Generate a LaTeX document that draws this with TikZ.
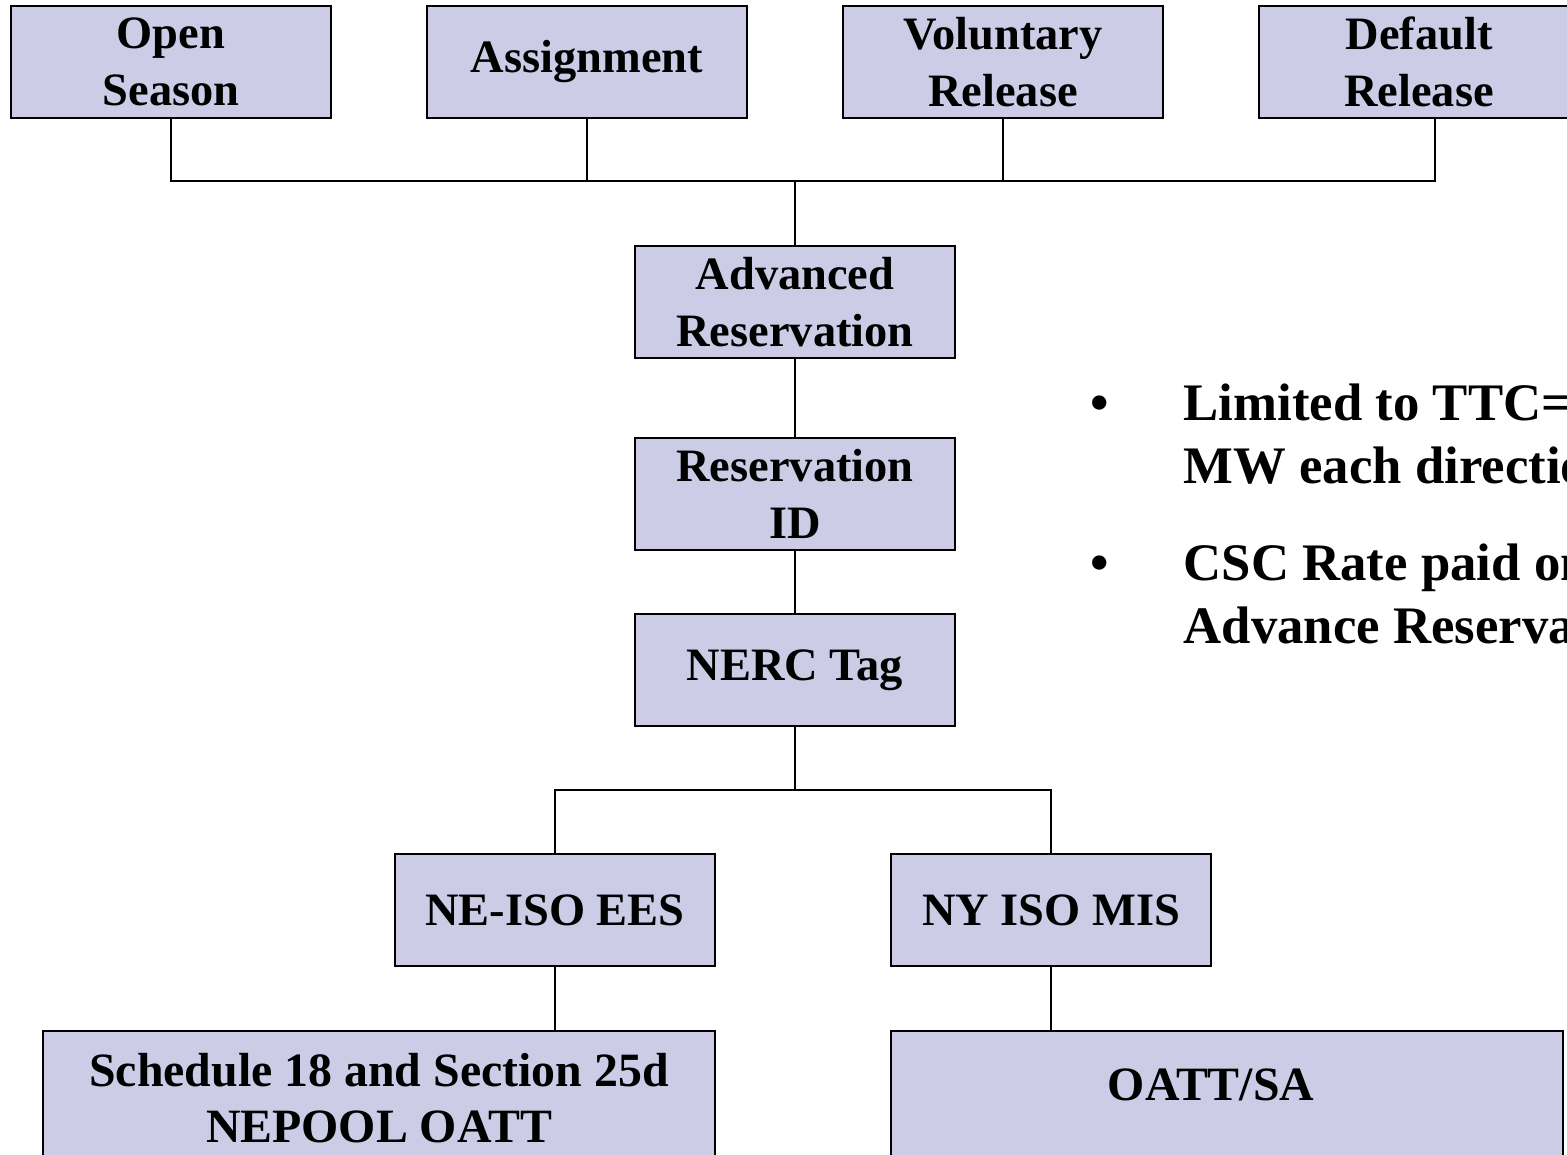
\documentclass[tikz,border=0pt]{standalone}
\usepackage{fontspec}
\setmainfont{Liberation Serif}
\definecolor{boxfill}{RGB}{204,204,230}

\begin{document}
\begin{tikzpicture}[x=0.01cm,y=-0.01cm,line width=0.45pt,
    box node/.style={draw,fill=boxfill,minimum width=3.2cm,minimum height=1.12cm,inner sep=0pt,align=center,font=\fontsize{13.2}{16.3}\selectfont\bfseries},
    wide node/.style={box node,minimum width=6.72cm,minimum height=1.6cm,anchor=north,font=\fontsize{13.6}{15.9}\selectfont\bfseries},
    note line/.style={anchor=base west,inner sep=0pt,font=\fontsize{15}{18}\selectfont\bfseries},
    bullet mark/.style={anchor=base,inner sep=0pt,font=\fontsize{15}{18}\selectfont\bfseries}]
    \clip (0,0) rectangle (1567,1155);

    \node[box node] (os) at (171,62) {Open\\Season};
    \node[box node] (as) at (587,62) {Assignment};
    \node[box node] (vr) at (1003,62) {Voluntary\\Release};
    \node[box node] (dr) at (1419,62) {Default\\Release};
    \coordinate (bus) at (795,181);
    \coordinate (drfoot) at ([xshift=0.16cm]dr.south);

    \node[box node] (ar) at (795,302) {Advanced\\Reservation};
    \node[box node] (rid) at (795,494) {Reservation\\ID};
    \node[box node] (nt) at (795,670) {NERC Tag};
    \coordinate (split) at (795,790);

    \node[box node] (ne) at (555,910) {NE-ISO EES};
    \node[box node] (ny) at (1051,910) {NY ISO MIS};
    \node[wide node,text depth=0.26cm] (sch) at (379,1030) {Schedule 18 and Section 25d\\NEPOOL OATT};
    \node[wide node,text depth=0.52cm] (sa) at (1227,1030) {OATT/SA\hspace*{0.32cm}};

    % notes on the right
    \node[bullet mark] (b1) at (1100,420) {•};
    \node[note line] (l1) at (1183,420) {Limited to TTC=};
    \node[note line] (l2) at (1183,483) {MW each direction};
    \node[bullet mark] (b2) at (1100,580) {•};
    \node[note line] (l3) at (1183,580) {CSC Rate paid on};
    \node[note line] (l4) at (1183,643) {Advance Reservation};

    \draw (os.south) |- (bus) -| (drfoot);
    \draw (as.south) -- (as.south |- bus);
    \draw (vr.south) -- (vr.south |- bus);
    \path (bus) edge (ar.north)
          (ar) edge (rid)
          (rid) edge (nt)
          (nt) edge (split);
    \draw (ne.north) |- (split) -| (ny.north);
    \path (ne) edge (ne |- sch.north)
          (ny) edge (ny |- sa.north);
\end{tikzpicture}
\end{document}
